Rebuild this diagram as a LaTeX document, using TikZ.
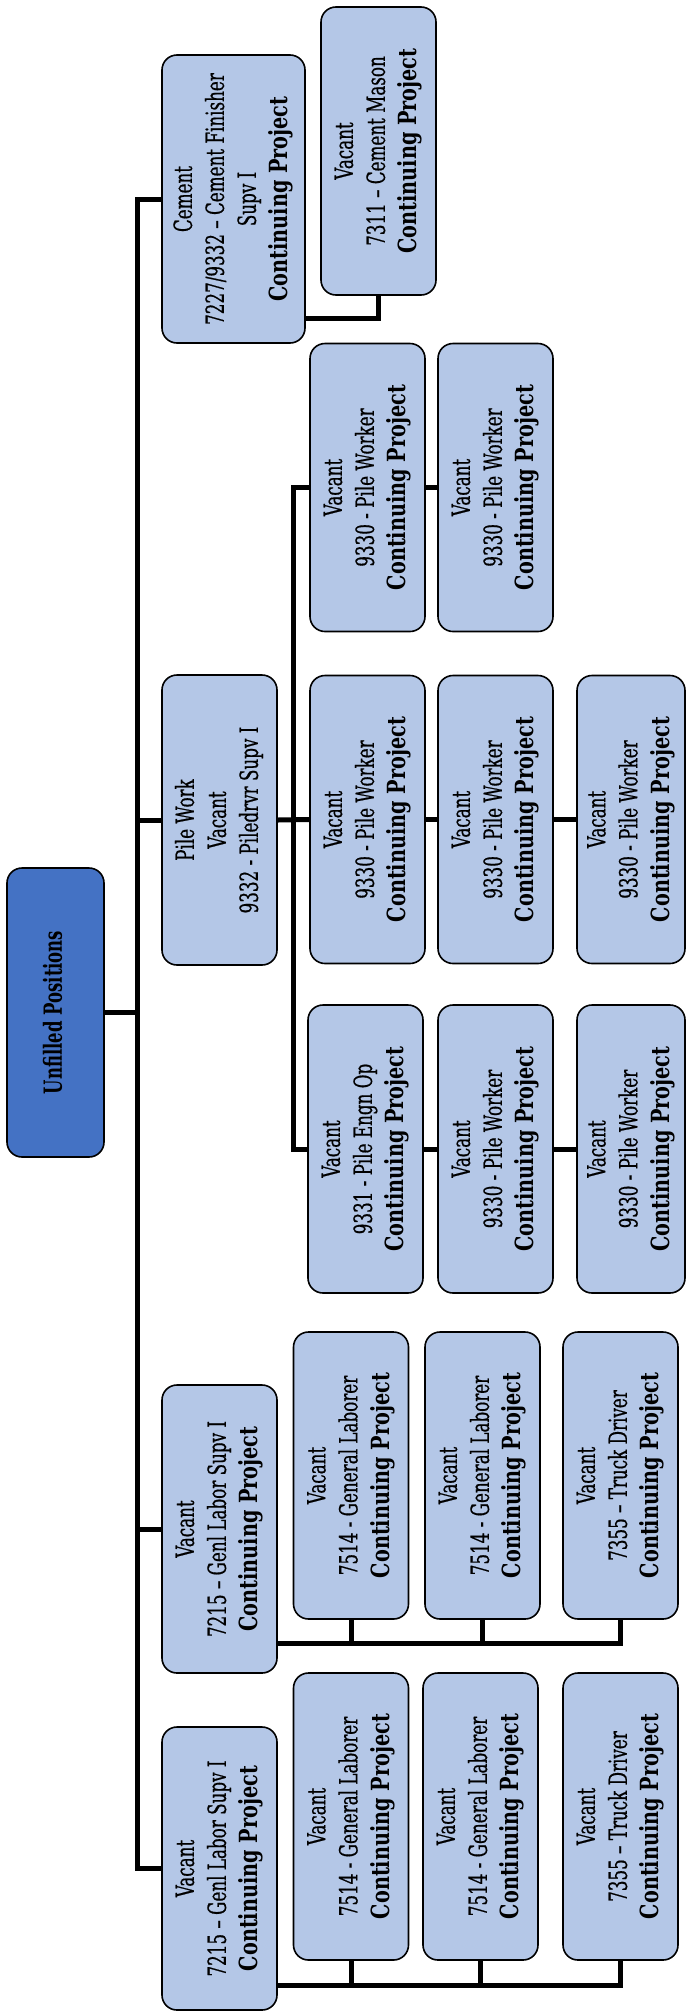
\documentclass[tikz,border=0pt]{standalone}
\usepackage{fontspec}
\usepackage{graphicx}
\setmainfont{DejaVu Serif}[FakeStretch=0.67,FakeBold=0.6]
\newfontfamily\cpfont{DejaVu Serif}[FakeStretch=0.77]
\newfontfamily\headfont{DejaVu Serif}[FakeStretch=0.66]
\definecolor{postblue}{HTML}{B4C7E7}
\definecolor{headblue}{HTML}{4472C4}
\newcommand{\vlabel}[1]{\rotatebox{90}{\begin{tabular}{@{}c@{}}#1\end{tabular}}}
\newcommand{\cproj}{{\cpfont\bfseries Continuing Project}}

\begin{document}
\begin{tikzpicture}[x=1pt,y=-1pt,line width=1.6pt,
  post/.style={draw,fill=postblue,rounded corners=15pt,inner sep=0pt,
    minimum width=115pt,minimum height=288pt,font=\fontsize{25}{32}\selectfont},
  link/.style={line width=5pt}]
  \useasboundingbox (0,0) rectangle (687,2013);
  % raiz
  \node[post,fill=headblue,minimum width=97pt,minimum height=289pt] (root) at (55.5,1012.5)
    {\vlabel{\headfont\bfseries Unfilled Positions}};
  % cemento
  \node[post,minimum width=143pt] (cement) at (233.5,199)
    {\vlabel{Cement\\7227/9332 – Cement Finisher\\Supv I\\\cproj}};
  \node[post] (mason) at (378.5,151) {\vlabel{Vacant\\7311 – Cement Mason\\\cproj}};
  % pilotes
  \node[post,minimum height=290pt] (pile) at (219.5,820)
    {\vlabel{Pile Work\\Vacant\\9332 - Piledrvr Supv I}};
  \node[post] (pa1) at (367.5,487.5) {\vlabel{Vacant\\9330 - Pile Worker\\\cproj}};
  \node[post] (pa2) at (495.5,487.5) {\vlabel{Vacant\\9330 - Pile Worker\\\cproj}};
  \node[post] (pb1) at (367.5,819.5) {\vlabel{Vacant\\9330 - Pile Worker\\\cproj}};
  \node[post] (pb2) at (495.5,819.5) {\vlabel{Vacant\\9330 - Pile Worker\\\cproj}};
  \node[post,minimum width=108pt] (pb3) at (631,819.5) {\vlabel{Vacant\\9330 - Pile Worker\\\cproj}};
  \node[post] (pc1) at (365.5,1149) {\vlabel{Vacant\\9331 - Pile Engn Op\\\cproj}};
  \node[post] (pc2) at (495.5,1149) {\vlabel{Vacant\\9330 - Pile Worker\\\cproj}};
  \node[post,minimum width=108pt] (pc3) at (631,1149) {\vlabel{Vacant\\9330 - Pile Worker\\\cproj}};
  % peones (grupo de arriba)
  \node[post] (gl2) at (219.5,1529) {\vlabel{Vacant\\7215 – Genl Labor Supv I\\\cproj}};
  \node[post,minimum height=287pt] (lab2a) at (351,1475.5) {\vlabel{Vacant\\7514 - General Laborer\\\cproj}};
  \node[post,minimum height=287pt] (lab2b) at (482.5,1475.5) {\vlabel{Vacant\\7514 - General Laborer\\\cproj}};
  \node[post,minimum height=287pt] (tr2) at (620.5,1475.5) {\vlabel{Vacant\\7355 – Truck Driver\\\cproj}};
  % peones (grupo de abajo)
  \node[post,minimum height=283pt] (gl1) at (219.5,1868.5) {\vlabel{Vacant\\7215 – Genl Labor Supv I\\\cproj}};
  \node[post,minimum height=287pt] (lab1a) at (351,1816.5) {\vlabel{Vacant\\7514 - General Laborer\\\cproj}};
  \node[post,minimum height=287pt] (lab1b) at (480.5,1816.5) {\vlabel{Vacant\\7514 - General Laborer\\\cproj}};
  \node[post,minimum height=287pt] (tr1) at (620.5,1816.5) {\vlabel{Vacant\\7355 – Truck Driver\\\cproj}};
  % tronco principal
  \coordinate (trunk) at (137,1012.5);
  \draw[link] (root.east) -- (trunk);
  \draw[link] (cement.west) -| (trunk |- gl1.west) -- (gl1.west);
  \draw[link] (trunk |- pile.west) -- (pile.west);
  \draw[link] (trunk |- gl2.west) -- (gl2.west);
  % cemento
  \coordinate (cemfoot) at ([yshift=25pt]cement.south east);
  \draw[link] (cemfoot) -| (mason.south);
  % pilotes
  \coordinate (pbus) at (293,820);
  \draw[link] (pa1.west) -| (pbus |- pc1.west) -- (pc1.west);
  \draw[link] (pile.east) -- (pb1.west);
  \draw[link] (pa1.east) -- (pa2.west);
  \draw[link] (pb1.east) -- (pb2.west) (pb2.east) -- (pb3.west);
  \draw[link] (pc1.east) -- (pc2.west) (pc2.east) -- (pc3.west);
  % peones
  \coordinate (g2foot) at ([yshift=30pt]gl2.south east);
  \draw[link] (g2foot) -| (tr2.south);
  \draw[link] (lab2a.south) -- (lab2a.south |- g2foot);
  \draw[link] (lab2b.south) -- (lab2b.south |- g2foot);
  \coordinate (g1foot) at ([yshift=25pt]gl1.south east);
  \draw[link] (g1foot) -| (tr1.south);
  \draw[link] (lab1a.south) -- (lab1a.south |- g1foot);
  \draw[link] (lab1b.south) -- (lab1b.south |- g1foot);
\end{tikzpicture}
\end{document}
